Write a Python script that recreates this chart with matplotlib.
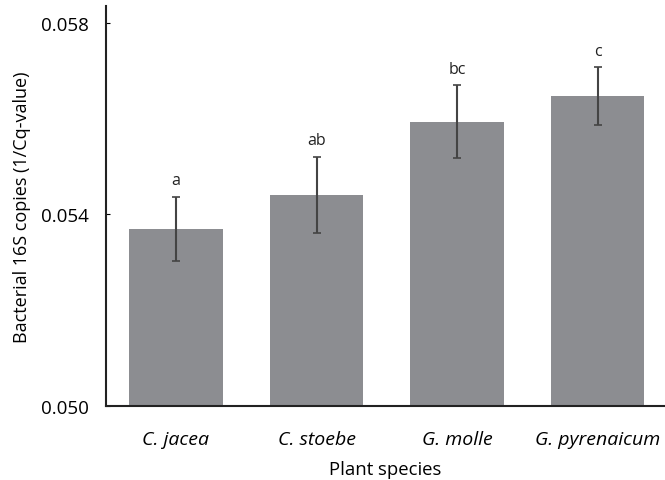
import numpy as np
import matplotlib.pyplot as plt

# Data
species = ["C. jacea", "C. stoebe", "G. molle", "G. pyrenaicum"]
means = [0.05370, 0.05441, 0.05594, 0.05647]
errors = [0.00067, 0.00080, 0.00076, 0.00060]
letters = ["a", "ab", "bc", "c"]

plt.rcParams['font.family'] = ['Open Sans', 'DejaVu Sans']

fig = plt.figure(figsize=(6.65, 4.81), dpi=100)
ax = fig.add_axes([0.159, 0.154, 0.841, 0.831])

x = np.arange(len(species))
ax.bar(x, means, width=0.667, color="#8c8d91", zorder=2)
ax.errorbar(x, means, yerr=errors, fmt="none", ecolor="#444444",
            elinewidth=1.5, capsize=3, capthick=1.2, zorder=3)

for xi, m, e, lab in zip(x, means, errors, letters):
    ax.annotate(lab, (xi, m + e), xytext=(0, 6), textcoords="offset points",
                ha="center", va="bottom", fontsize=11.5, color="#222222")

ax.set_ylim(0.050, 0.05835)
ax.set_xlim(-0.5, 3.48)
ax.set_yticks([0.050, 0.054, 0.058])
ax.set_yticklabels(["0.050", "0.054", "0.058"], fontsize=13.5)
ax.set_xticks(x)
ax.set_xticklabels(species, fontsize=14, style="italic")
ax.tick_params(axis="x", length=0, pad=17)
ax.tick_params(axis="y", direction="in", length=3, pad=12)

ax.set_xlabel("Plant species", fontsize=13.3, labelpad=9)
ax.set_ylabel("Bacterial 16S copies (1/Cq-value)", fontsize=13, labelpad=7)

for s in ["top", "right"]:
    ax.spines[s].set_visible(False)
for s in ["left", "bottom"]:
    ax.spines[s].set_linewidth(1.5)
    ax.spines[s].set_color("#222222")

fig.savefig("out.png", dpi=100)
